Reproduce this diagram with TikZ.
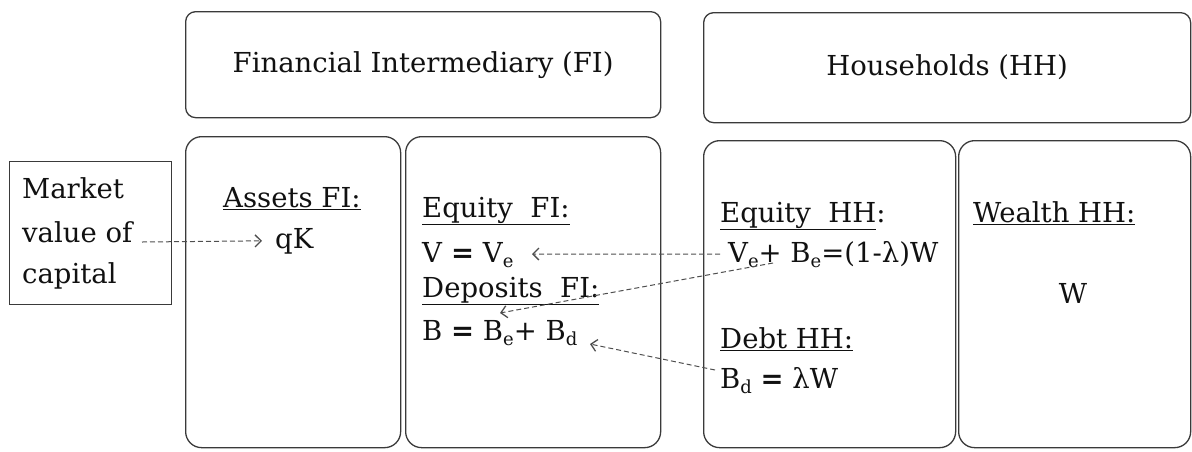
\documentclass[tikz,border=0pt]{standalone}
\usepackage{fontspec}
\setmainfont{DejaVu Serif}
\usetikzlibrary{arrows.meta,positioning}
\definecolor{ink}{HTML}{111111}
\definecolor{rim}{HTML}{3A3A3A}
\tikzset{
  panel/.style  = {draw=rim, line width=1.3pt, rounded corners=16pt, anchor=north west,
                   inner sep=0pt},
  header/.style = {panel, rounded corners=10pt},
  plain/.style  = {draw=rim, line width=1.2pt, anchor=north west, inner sep=0pt},
  txt/.style    = {anchor=base west, inner sep=0pt, text=ink,
                   font=\fontsize{27.5}{43}\selectfont},
  flow/.style   = {dash pattern=on 5pt off 3pt, line width=1pt,
                   draw=rim!90, -{Straight Barb[length=6pt,width=12pt,line width=1.3pt]}},
}
\newcommand{\sub}[1]{\raisebox{-5pt}{\fontsize{18}{18}\selectfont #1}}

\begin{document}
\begin{tikzpicture}[x=1pt,y=-1pt]
  \useasboundingbox (0,0) rectangle (1192,451);
  % boxes
  \node[header, minimum width=475pt, minimum height=106pt] (fitop)  at (185,11)  {};
  \node[header, minimum width=487pt, minimum height=110pt] (hhtop)  at (703,12)  {};
  \node[plain,  minimum width=162pt, minimum height=143pt] (market) at (9,161)   {};
  \node[panel,  minimum width=215pt, minimum height=311pt] (assets) at (185,136) {};
  \node[panel,  minimum width=255pt, minimum height=311pt] (eqfi)   at (405,136) {};
  \node[panel,  minimum width=252pt, minimum height=307pt] (eqhh)   at (703,140) {};
  \node[panel,  minimum width=232pt, minimum height=307pt] (wealth) at (958,140) {};
  % titles
  \node[txt, anchor=base] (fititle) at (fitop.center |- 0,72) {Financial Intermediary (FI)};
  \node[txt, anchor=base] (hhtitle) at (hhtop.center |- 0,75) {Households (HH)};
  % market value of capital
  \node[txt] (mk1) at (22,198) {Market};
  \node[txt] (mk2) at (22,242) {value of};
  \node[txt] (mk3) at (22,283) {capital};
  % FI balance sheet
  \node[txt] (assetsfi) at (223,207) {\underline{Assets FI:}};
  \node[txt] (qk)       at (275,248) {qK};
  \node[txt] (eqfilbl)  at (422,217) {\underline{Equity\ \ FI:}};
  \node[txt] (vfi)      at (422,262) {V \textbf{=} V\sub{e}};
  \node[txt] (depfi)    at (422,297) {\underline{Deposits\ \ FI:}};
  \node[txt] (bfi)      at (422,340) {B \textbf{=} B\sub{e}+ B\sub{d}};
  % HH balance sheet
  \node[txt] (eqhhlbl)  at (720,222) {\underline{Equity\ \ HH}:};
  \node[txt] (vebe)     at (728,262) {V\sub{e}+ B\sub{e}=(1-λ)W};
  \node[txt] (debthh)   at (720,348) {\underline{Debt HH:}};
  \node[txt] (bd)       at (720,388) {B\sub{d} \textbf{=} λW};
  \node[txt] (wealthhh) at (973,222) {\underline{Wealth HH:}};
  \node[txt, anchor=base] (w) at (1073,303) {W};
  % flows
  \coordinate (mv)    at (142,242);
  \coordinate (split) at (773,263);
  \coordinate (dep)   at (500,313);
  \coordinate (bdin)  at (590,344);
  \coordinate (bdout) at (715,370);
  \draw[flow] (mv) -- (qk.west -| 262,0);
  \draw[flow] (vebe.west) ++(-8,0) -- (532,254);
  \draw[flow] (split) -- (dep);
  \draw[flow] (bdout) -- (bdin);
\end{tikzpicture}
\end{document}
